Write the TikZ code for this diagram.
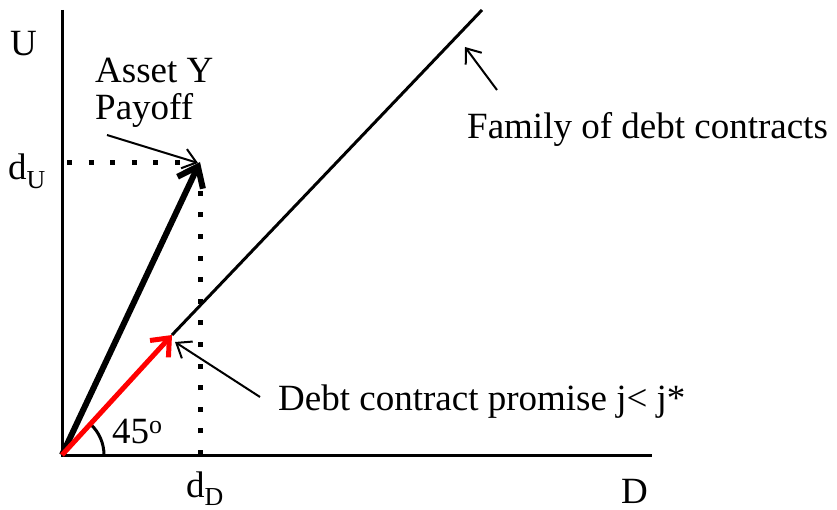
\documentclass[tikz,border=0pt]{standalone}
\usepackage{fontspec}
\setmainfont{Liberation Serif}
\usetikzlibrary{arrows.meta}
\begin{document}
\begin{tikzpicture}[x=1pt,y=-1pt,
  lbl/.style={font=\fontsize{37}{41}\selectfont, inner sep=0pt},
  axis/.style={line width=3pt},
  dotline/.style={line width=5pt, dash pattern=on 5pt off 16.6pt},
  pointer/.style={line width=2pt, -{Straight Barb[length=13pt,width=20pt,line width=2pt]}},
  bigarrow/.style={line width=6pt, -{Straight Barb[length=18pt,width=28pt,line width=6pt]}},
  redarrow/.style={red, line width=5pt, -{Straight Barb[length=15pt,width=25pt,line width=5pt]}}]
\useasboundingbox (0,0) rectangle (837,510);
% key points
\coordinate (O) at (62,455);
\coordinate (ytop) at (62,10);
\coordinate (xend) at (652,455);
\coordinate (P) at (200,162);
\coordinate (R) at (172,335);
\coordinate (F) at (482,10);
\coordinate (hdotA) at (67,163);
\coordinate (hdotB) at (190,163);
\coordinate (vdotA) at (200,185);
\coordinate (vdotB) at (200,455);
\coordinate (famTail) at (497,90);
\coordinate (famTip) at (465,47);
\coordinate (assetTail) at (107,135);
\coordinate (assetTip) at (198,163);
\coordinate (debtTail) at (260,397);
\coordinate (debtTip) at (175,342);
% axes
\draw[axis] (ytop) -- (O) -- (xend);
% dotted guides
\draw[dotline] (hdotA) -- (hdotB);
\draw[dotline] (vdotB) -- (vdotA);
% family line
\draw[line width=3pt] (R) -- (F);
% angle arc
\draw[line width=3pt] (O) ++(42,0) arc[start angle=0, end angle=-47, radius=42];
% payoff arrows
\draw[bigarrow] (O) -- (P);
\draw[redarrow] (O) -- (R);
% pointers
\draw[pointer] (famTail) -- (famTip);
\draw[pointer] (assetTail) -- (assetTip);
\draw[pointer] (debtTail) -- (debtTip);
% labels
\node[lbl, anchor=base west] (lU) at (10,56) {U};
\node[lbl, anchor=base west] (lAsset) at (95,83) {Asset Y};
\node[lbl, anchor=base west] (lPayoff) at (95,120) {Payoff};
\node[lbl, anchor=base west] (ldU) at (8,180) {d\textsubscript{U}};
\node[lbl, anchor=base west] (lFam) at (467,139) {Family of debt contracts};
\node[lbl, anchor=base west] (lDebt) at (278,410) {Debt contract promise j< j*};
\node[lbl, anchor=base west] (l45) at (112,443) {45\textsuperscript{o}};
\node[lbl, anchor=base west] (ldD) at (186,497) {d\textsubscript{D}};
\node[lbl, anchor=base west] (lD) at (621,503) {D};
\end{tikzpicture}
\end{document}
